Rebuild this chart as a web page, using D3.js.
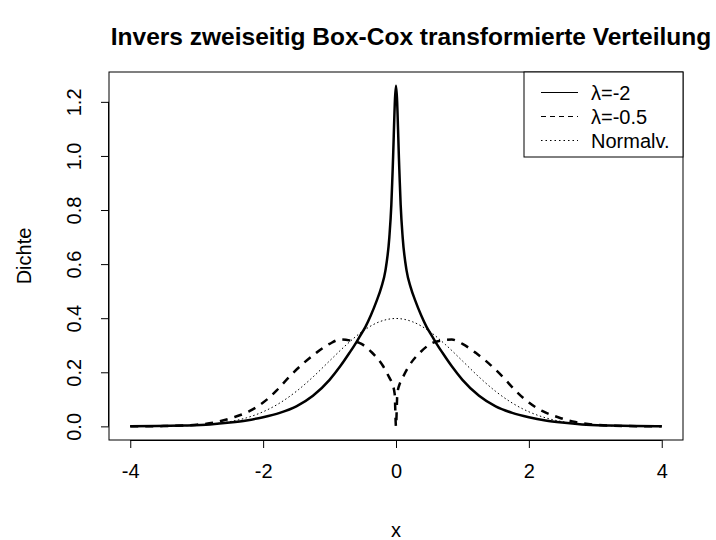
<!DOCTYPE html>
<html><head><meta charset="utf-8">
<script src="https://cdn.jsdelivr.net/npm/d3@7"></script>
<style>body{margin:0;background:#fff}text{font-family:"Liberation Sans",Arial,sans-serif;fill:#000}</style>
</head><body>
<svg id="c" width="716" height="540"></svg>
<script>
// ---- data ----
const xTicks = [-4, -2, 0, 2, 4];
const yTicks = [0, 0.2, 0.4, 0.6, 0.8, 1.0, 1.2];
const seriesNames = ["\u03bb=-2", "\u03bb=-0.5", "Normalv."];

const xLam2 = [-4, -3.6, -3.2, -2.8, -2.5, -2.25, -2, -1.75, -1.5, -1.25, -1, -0.84, -0.7, -0.6, -0.54, -0.46, -0.38, -0.29, -0.22, -0.16, -0.1, -0.07, -0.05, 0,
               0.05, 0.07, 0.1, 0.16, 0.22, 0.29, 0.38, 0.46, 0.54, 0.6, 0.7, 0.84, 1, 1.25, 1.5, 1.75, 2, 2.25, 2.5, 2.8, 3.2, 3.6, 4];
const yLam2 = [0.0005, 0.001, 0.003, 0.007, 0.014, 0.022, 0.034, 0.05, 0.074, 0.113, 0.172, 0.222, 0.272, 0.31, 0.335, 0.368, 0.41, 0.465, 0.515, 0.575, 0.7, 0.82, 0.95, 1.26,
               0.95, 0.82, 0.7, 0.575, 0.515, 0.465, 0.41, 0.368, 0.335, 0.31, 0.272, 0.222, 0.172, 0.113, 0.074, 0.05, 0.034, 0.022, 0.014, 0.007, 0.003, 0.001, 0.0005];

const xLam05 = [-4, -3.5, -3, -2.7, -2.45, -2.2, -2, -1.8, -1.6, -1.4, -1.2, -1, -0.84, -0.7, -0.52, -0.37, -0.2, -0.1, -0.06, -0.02, 0,
                0.02, 0.06, 0.1, 0.2, 0.37, 0.52, 0.7, 0.84, 1, 1.2, 1.4, 1.6, 1.8, 2, 2.2, 2.45, 2.7, 3, 3.5, 4];
const yLam05 = [0, 0.001, 0.006, 0.016, 0.033, 0.057, 0.088, 0.132, 0.185, 0.232, 0.272, 0.305, 0.321, 0.318, 0.305, 0.275, 0.225, 0.18, 0.16, 0.12, 0,
                0.12, 0.16, 0.18, 0.225, 0.275, 0.305, 0.318, 0.321, 0.305, 0.272, 0.232, 0.185, 0.132, 0.088, 0.057, 0.033, 0.016, 0.006, 0.001, 0];

const xNorm = [-4, -3.75, -3.5, -3.25, -3, -2.75, -2.5, -2.25, -2, -1.75, -1.5, -1.25, -1, -0.75, -0.5, -0.25, 0,
               0.25, 0.5, 0.75, 1, 1.25, 1.5, 1.75, 2, 2.25, 2.5, 2.75, 3, 3.25, 3.5, 3.75, 4];
const yNorm = [0.0001, 0.0004, 0.0009, 0.002, 0.0044, 0.0091, 0.0175, 0.0317, 0.054, 0.0863, 0.1295, 0.1826, 0.242, 0.3011, 0.3521, 0.3867, 0.3989,
               0.3867, 0.3521, 0.3011, 0.242, 0.1826, 0.1295, 0.0863, 0.054, 0.0317, 0.0175, 0.0091, 0.0044, 0.002, 0.0009, 0.0004, 0.0001];

// ---- drawing ----
const svg = d3.select("#c");
const L = 109, R = 683, T = 72, B = 440;
const x = d3.scaleLinear().domain([-4.32, 4.32]).range([L, R]);
const y = d3.scaleLinear().domain([-0.0504, 1.3104]).range([B, T]);

const line = d3.line().x(d => x(d[0])).y(d => y(d[1])).curve(d3.curveMonotoneX);
const zip = (a, b) => a.map((v, i) => [v, b[i]]);

const series = [
  {pts: zip(xNorm, yNorm), w: 1, dash: "1.5,2.5"},
  {pts: zip(xLam05, yLam05), w: 2.5, dash: "8,7"},
  {pts: zip(xLam2, yLam2), w: 2.5, dash: null}
];
series.forEach(s => {
  svg.append("path").attr("d", line(s.pts)).attr("fill", "none")
    .attr("stroke", "#000").attr("stroke-width", s.w)
    .attr("stroke-dasharray", s.dash).attr("stroke-linejoin", "round");
});

// box
svg.append("rect").attr("x", L).attr("y", T).attr("width", R - L).attr("height", B - T)
  .attr("fill", "none").attr("stroke", "#000").attr("stroke-width", 1);

// x axis
const xa = svg.append("g").attr("transform", `translate(0,${B})`)
  .call(d3.axisBottom(x).tickValues(xTicks).tickSize(8).tickPadding(30).tickFormat(d => String(d)));
xa.select(".domain").attr("d", `M${x(-4)},0.5H${x(4)}`);
xa.selectAll("text").attr("font-size", 20).attr("font-family", "Liberation Sans, Arial, sans-serif").attr("dy", "0");

// y axis
const ya = svg.append("g").attr("transform", `translate(${L},0)`)
  .call(d3.axisLeft(y).tickValues(yTicks).tickSize(8).tickFormat(d3.format(".1f")));
ya.select(".domain").attr("d", `M-0.5,${y(0)}V${y(1.2)}`);
ya.selectAll("text").attr("font-size", 20).attr("font-family", "Liberation Sans, Arial, sans-serif")
  .attr("text-anchor", "middle").attr("x", null).attr("dy", null)
  .attr("transform", d => `translate(-28,0) rotate(-90)`);

// titles
svg.append("text").attr("x", 411).attr("y", 45).attr("text-anchor", "middle")
  .attr("font-size", 24.5).attr("font-weight", "bold").text("Invers zweiseitig Box-Cox transformierte Verteilung");
svg.append("text").attr("x", (L + R) / 2).attr("y", 537).attr("text-anchor", "middle")
  .attr("font-size", 20).text("x");
svg.append("text").attr("transform", `translate(31,${(T + B) / 2}) rotate(-90)`).attr("text-anchor", "middle")
  .attr("font-size", 20).text("Dichte");

// legend
const lg = svg.append("g");
lg.append("rect").attr("x", 524).attr("y", T).attr("width", R - 524).attr("height", 85)
  .attr("fill", "#fff").attr("stroke", "#000").attr("stroke-width", 1);
const legDash = [null, "5,4", "1.5,3"];
seriesNames.forEach((n, i) => {
  const cy = 92.5 + i * 24;
  lg.append("line").attr("x1", 541).attr("x2", 578).attr("y1", cy).attr("y2", cy)
    .attr("stroke", "#000").attr("stroke-width", 1).attr("stroke-dasharray", legDash[i]);
  lg.append("text").attr("x", 591).attr("y", cy + 7).attr("font-size", 20).text(n);
});
</script>
</body></html>
